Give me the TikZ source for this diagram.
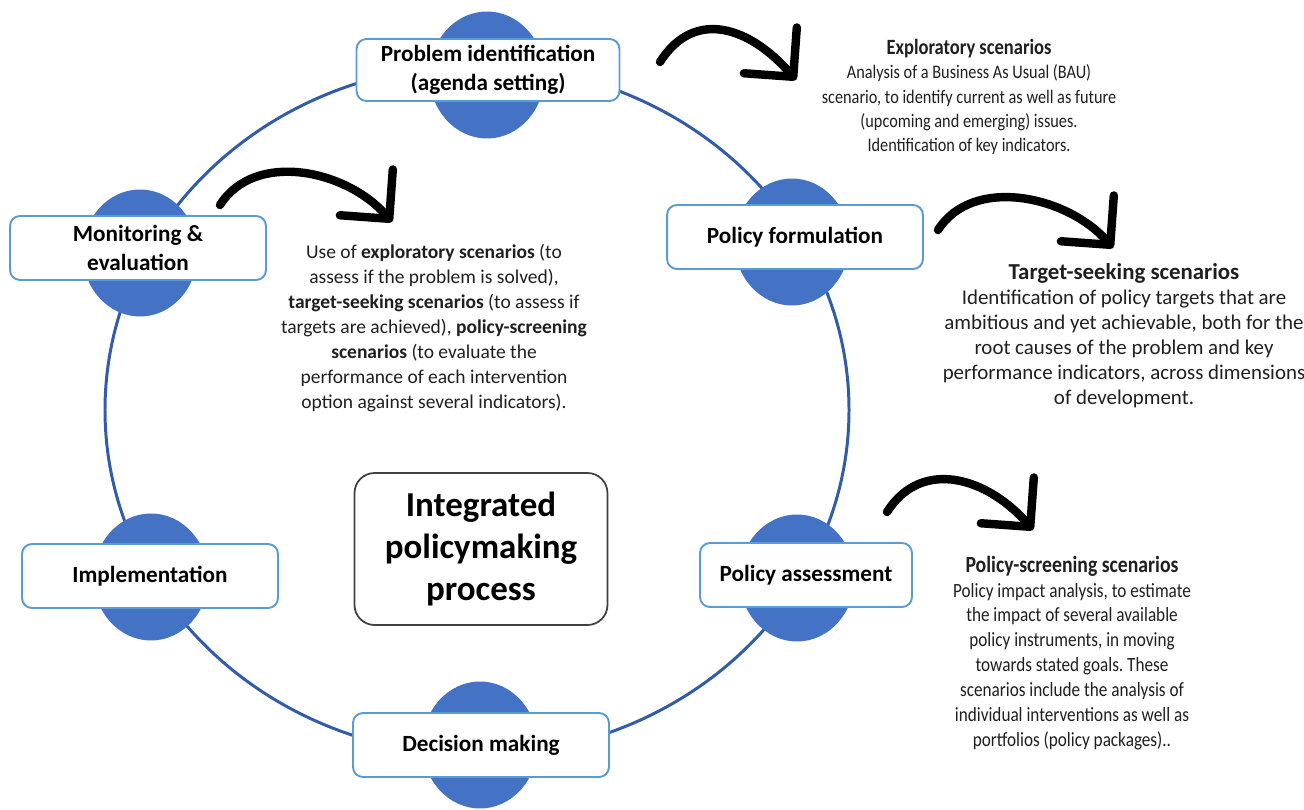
\documentclass[tikz,border=0pt]{standalone}
\usepackage{fontspec}
\setmainfont{Carlito}
\newfontfamily\narrowfont{Carlito}[FakeStretch=0.85]
\usetikzlibrary{arrows.meta,shapes.geometric}
\definecolor{discblue}{RGB}{68,114,196}
\definecolor{ringblue}{RGB}{50,92,168}
\definecolor{boxblue}{RGB}{91,155,213}
\frenchspacing
\tikzset{
  disc/.style={ellipse,fill=discblue,minimum width=2.3cm,minimum height=2.54cm,inner sep=0pt},
  stagebox/.style={draw=boxblue,line width=1.1pt,fill=white,rounded corners=0.2cm,
    minimum width=5.12cm,minimum height=1.28cm,inner sep=0pt,align=center,
    font=\fontsize{13.2}{16.4}\selectfont\bfseries},
  corebox/.style={draw=black!75,line width=1pt,fill=white,rounded corners=0.4cm,
    minimum width=5.06cm,minimum height=3.04cm,align=center,
    font=\fontsize{19.9}{23.8}\selectfont\bfseries},
  note/.style={align=center,inner sep=0pt,text=black!88},
  bigarrow/.style={line width=4.8pt,line cap=round,
    -{Straight Barb[length=0.7cm,width=1.4cm,line width=4.8pt,round]}}
}
\begin{document}
\begin{tikzpicture}[x=0.02cm,y=-0.02cm]
\fill[white] (0,0) rectangle (1304,810);
\useasboundingbox (0,0) rectangle (1304,810);

\draw[ringblue,line width=1.7pt] (477,410) ellipse [x radius=372, y radius=345];

\foreach \n/\x/\y in {1/487/75, 2/792/242, 3/797/578, 4/480/745, 5/151/577, 6/140/253}
  \node[disc] (d\n) at (\x,\y) {};

\node[stagebox,minimum width=5.26cm,minimum height=1.24cm] (s1) at (488,70) {Problem identification\\(agenda setting)};
\node[stagebox] (s2) at (795,237) {Policy formulation};
\node[stagebox,minimum width=4.24cm] (s3) at (806,575) {Policy assessment};
\node[stagebox] (s4) at (481,745) {Decision making};
\node[stagebox] (s5) at (150,576) {Implementation};
\node[stagebox] (s6) at (138,248) {Monitoring \&\\evaluation};

\node[corebox] (core) at (481,549) {Integrated\\policymaking\\process};

\node[note,font=\narrowfont\fontsize{10.9}{13.9}\selectfont] (explore) at (969,97)
  {{\fontsize{12.4}{13.9}\selectfont\bfseries Exploratory scenarios}\\
   Analysis of a Business As Usual (BAU)\\
   scenario, to identify current as well as future\\
   (upcoming and emerging) issues.\\
   Identification of key indicators.};
\node[note,font=\fontsize{11.9}{14.2}\selectfont] (target) at (1124,336)
  {{\fontsize{13}{14.2}\selectfont\bfseries Target-seeking scenarios}\\
   Identification of policy targets that are\\
   ambitious and yet achievable, both for the\\
   root causes of the problem and key\\
   performance indicators, across dimensions\\
   of development.};
\node[note,font=\narrowfont\fontsize{11.5}{14.2}\selectfont] (screen) at (1072,653)
  {{\fontsize{13.2}{14.2}\selectfont\bfseries Policy-screening scenarios}\\
   Policy impact analysis, to estimate\\
   the impact of several available\\
   policy instruments, in moving\\
   towards stated goals. These\\
   scenarios include the analysis of\\
   individual interventions as well as\\
   portfolios (policy packages)..};
\node[note,font=\fontsize{11.1}{14.2}\selectfont] (monitor) at (434,328)
  {Use of \textbf{exploratory scenarios} (to\\
   assess if the problem is solved),\\
   \textbf{target-seeking scenarios} (to assess if\\
   targets are achieved), \textbf{policy-screening}\\
   \textbf{scenarios} (to evaluate the\\
   performance of each intervention\\
   option against several indicators).};

\coordinate (a1s) at (660,62);  \coordinate (a1e) at (796,80);
\coordinate (a2s) at (220,205); \coordinate (a2e) at (392,222);
\coordinate (a3s) at (938,230); \coordinate (a3e) at (1113,248);
\coordinate (a4s) at (887,512); \coordinate (a4e) at (1033,530);
\foreach \s/\e in {a1s/a1e, a2s/a2e, a3s/a3e, a4s/a4e}
  \draw[bigarrow] (\s) .. controls +(35,-55) and +(-45,-52) .. (\e);

\end{tikzpicture}
\end{document}
